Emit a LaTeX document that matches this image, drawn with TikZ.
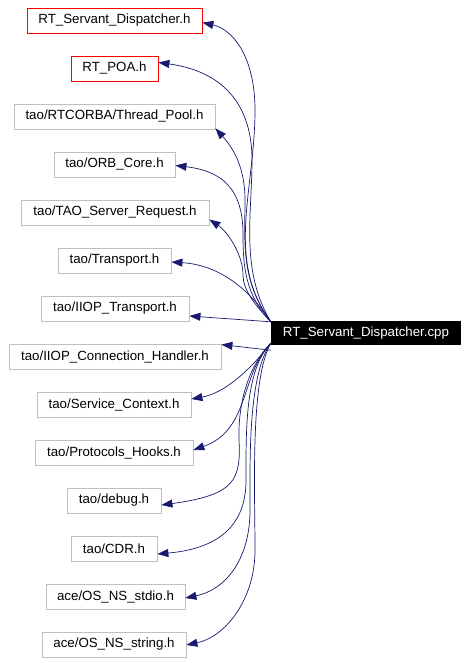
\documentclass[tikz,border=0pt]{standalone}
\usepackage{fontspec}
\setmainfont{Liberation Sans}
\usetikzlibrary{arrows.meta}
\definecolor{edgeblue}{HTML}{191970}
\definecolor{boxgray}{HTML}{BFBFBF}
\tikzset{
  filebox/.style={draw=boxgray, line width=0.8pt, minimum height=25pt, inner sep=0pt, font=\fontsize{13.3}{15}\selectfont, text=black},
  redbox/.style={filebox, draw=red},
  mainbox/.style={fill=black, text=white, minimum height=24pt, inner sep=0pt, font=\fontsize{13.3}{15}\selectfont},
  edge/.style={draw=edgeblue, line width=0.7pt, -{Triangle[length=11pt,width=8pt]}}
}
\begin{document}
\begin{tikzpicture}[x=1pt,y=-1pt]
\useasboundingbox (0,0) rectangle (468,663);
\node[redbox, minimum width=175pt] (n1) at (114.5,20.5) {RT\_Servant\_Dispatcher.h};
\node[redbox, minimum width=87pt] (n2) at (114.5,68.5) {RT\_POA.h};
\node[filebox, minimum width=201pt] (n3) at (114.5,116.5) {tao/RTCORBA/Thread\_Pool.h};
\node[filebox, minimum width=121pt] (n4) at (114.5,164.5) {tao/ORB\_Core.h};
\node[filebox, minimum width=188pt] (n5) at (115,212.5) {tao/TAO\_Server\_Request.h};
\node[filebox, minimum width=113pt] (n6) at (114.5,260.5) {tao/Transport.h};
\node[filebox, minimum width=148pt] (n7) at (115,308.5) {tao/IIOP\_Transport.h};
\node[filebox, minimum width=212pt] (n8) at (115,356.5) {tao/IIOP\_Connection\_Handler.h};
\node[filebox, minimum width=154pt] (n9) at (114,404.5) {tao/Service\_Context.h};
\node[filebox, minimum width=158pt] (n10) at (114,452.5) {tao/Protocols\_Hooks.h};
\node[filebox, minimum width=94pt] (n11) at (114,500.5) {tao/debug.h};
\node[filebox, minimum width=86pt] (n12) at (114,548.5) {tao/CDR.h};
\node[filebox, minimum width=139pt] (n13) at (115.5,596.5) {ace/OS\_NS\_stdio.h};
\node[filebox, minimum width=144pt] (n14) at (114,644.5) {ace/OS\_NS\_string.h};
\node[mainbox, minimum width=190pt] (m) at (366,333) {RT\_Servant\_Dispatcher.cpp};

\coordinate (up) at ([yshift=-1pt]m.north west);
\coordinate (dn) at ([yshift=2pt]m.south west);

\draw[edge] (up) .. controls (225,260) and (255,190) .. (255,110) .. controls (255,60) and (235,30) .. ([yshift=-2pt]n1.east);
\draw[edge] (up) .. controls (240,270) and (252,215) .. (252,160) .. controls (252,110) and (228,72) .. ([yshift=6pt]n2.east);
\draw[edge] (up) .. controls (240,280) and (245,240) .. (245,200) .. controls (245,170) and (235,150) .. ([yshift=1pt]n3.south east);
\draw[edge] (up) .. controls (245,295) and (243,265) .. (243,235) .. controls (243,200) and (232,172) .. ([yshift=-1pt]n4.east);
\draw[edge] (up) .. controls (255,305) and (243,290) .. (243,275) .. controls (243,255) and (228,232) .. ([yshift=-7pt]n5.east);
\draw[edge] (up) .. controls (250,290) and (220,265) .. ([yshift=-1.5pt]n6.east);
\draw[edge] (up) -- ([yshift=-7.5pt]n7.east);
\draw[edge] ([yshift=-5pt]m.south west) -- ([yshift=-1pt]n8.north east);
\draw[edge] (dn) .. controls (250,370) and (225,393) .. ([yshift=5.5pt]n9.east);
\draw[edge] (dn) .. controls (240,375) and (250,430) .. ([yshift=2.5pt]n10.east);
\draw[edge] (dn) .. controls (245,370) and (238,410) .. (239,440) .. controls (241,480) and (235,495) .. ([yshift=-4.5pt]n11.east);
\draw[edge] (dn) .. controls (245,370) and (246,430) .. (246,480) .. controls (246,520) and (225,548) .. ([yshift=-5.5pt]n12.east);
\draw[edge] (dn) .. controls (248,375) and (250,460) .. (250,510) .. controls (250,560) and (225,590) .. ([yshift=-1.5pt]n13.east);
\draw[edge] (dn) .. controls (250,380) and (255,490) .. (255,550) .. controls (255,600) and (225,637) .. ([yshift=-0.5pt]n14.east);
\end{tikzpicture}
\end{document}
